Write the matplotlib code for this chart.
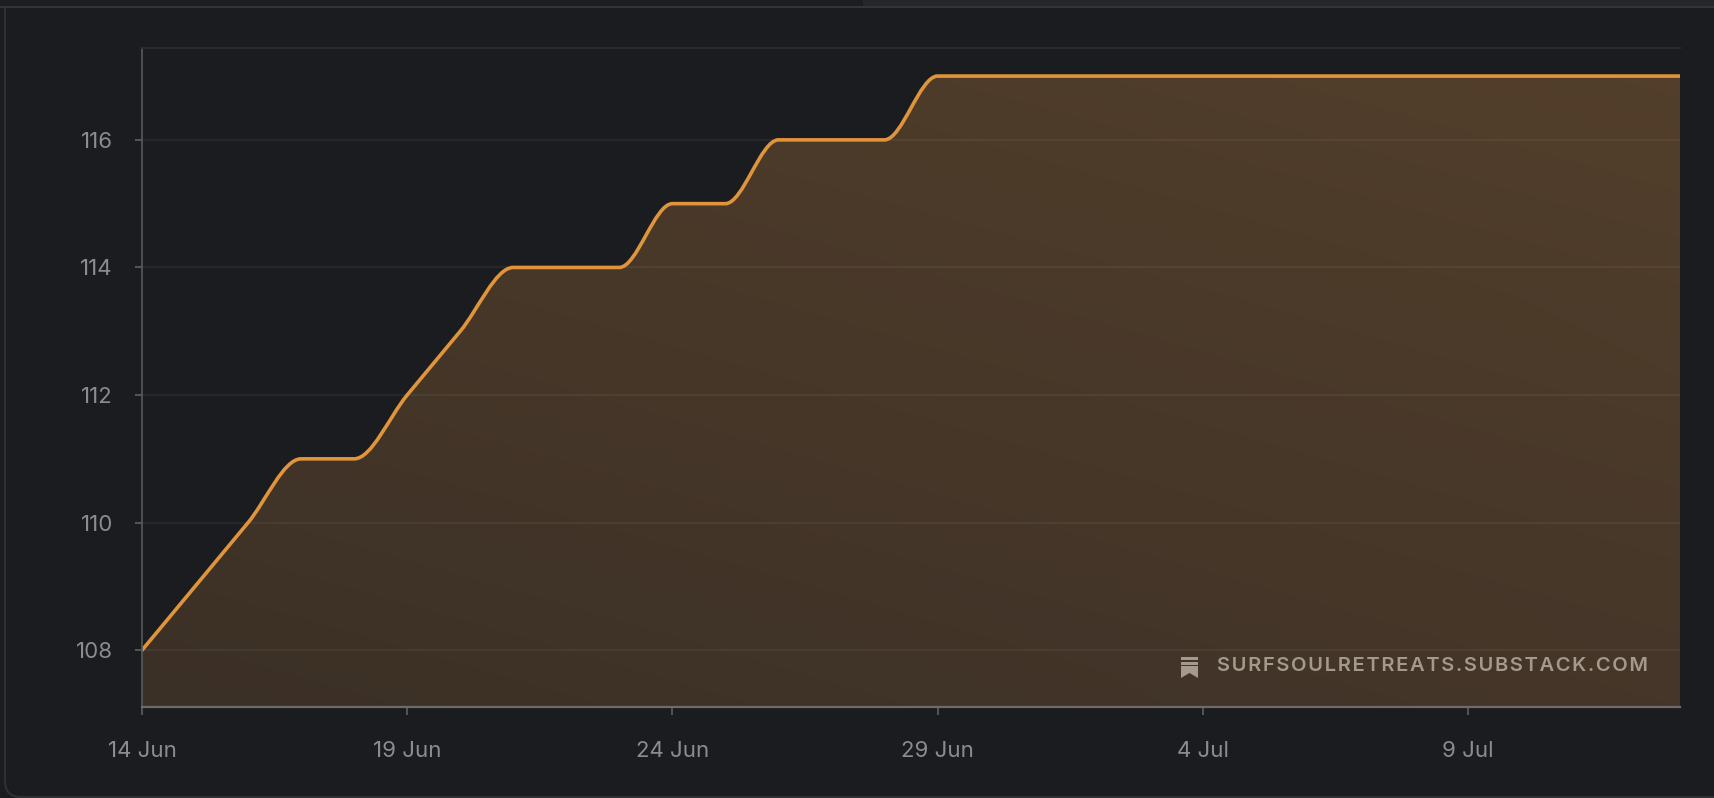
import numpy as np
import matplotlib
matplotlib.use("Agg")
import matplotlib.pyplot as plt
import matplotlib.patches as patches
from matplotlib.path import Path
from matplotlib.transforms import IdentityTransform

# Daily subscriber counts, 14 Jun .. 13 Jul
days = list(range(30))
subscribers = [108, 109, 110, 111, 111, 112, 113, 114, 114, 114,
               115, 115, 116, 116, 116, 117, 117, 117, 117, 117,
               117, 117, 117, 117, 117, 117, 117, 117, 117, 117]
tick_days = [0, 5, 10, 15, 20, 25]
tick_labels = ['14 Jun', '19 Jun', '24 Jun', '29 Jun', '4 Jul', '9 Jul']
y_ticks = [108, 110, 112, 114, 116]

BG = '#1b1c1f'
LINE = '#e0943b'
TEXT = '#8c8c8e'
W, H = 1714, 798

plt.rcParams['font.family'] = ['Inter', 'DejaVu Sans']


def monotone_path(xs, ys, ybase):
    # monotone cubic (like d3 curveMonotoneX) as bezier segments
    x = np.asarray(xs, float)
    y = np.asarray(ys, float)
    h = np.diff(x)
    s = np.diff(y) / h
    n = len(x)
    t = np.zeros(n)
    for i in range(1, n - 1):
        p = (s[i - 1] * h[i] + s[i] * h[i - 1]) / (h[i - 1] + h[i])
        t[i] = (np.sign(s[i - 1]) + np.sign(s[i])) * min(abs(s[i - 1]), abs(s[i]), 0.5 * abs(p))
    t[0] = (3 * s[0] - t[1]) / 2 if n > 2 else s[0]
    t[-1] = (3 * s[-1] - t[-2]) / 2 if n > 2 else s[-1]
    verts = [(x[0], y[0])]
    codes = [Path.MOVETO]
    for i in range(n - 1):
        d = h[i] / 3
        verts += [(x[i] + d, y[i] + d * t[i]), (x[i + 1] - d, y[i + 1] - d * t[i + 1]), (x[i + 1], y[i + 1])]
        codes += [Path.CURVE4] * 3
    line = Path(verts, codes)
    fverts = verts + [(x[-1], ybase), (x[0], ybase), (x[0], y[0])]
    fcodes = codes + [Path.LINETO, Path.LINETO, Path.CLOSEPOLY]
    return line, Path(fverts, fcodes)


fig = plt.figure(figsize=(W / 100, H / 100), dpi=100, facecolor=BG)

# panel chrome
fig.patches.append(patches.FancyBboxPatch((5, 1), W + 40, H + 60,
                                          boxstyle='round,pad=0,rounding_size=16',
                                          transform=IdentityTransform(), facecolor='none',
                                          edgecolor='#2e3033', linewidth=1.5, figure=fig))
fig.patches.append(patches.Rectangle((0, H - 6), 862, 6, transform=IdentityTransform(),
                                     facecolor='#1d1e21', edgecolor='none', figure=fig))
fig.patches.append(patches.Rectangle((863, H - 6), W - 863, 6, transform=IdentityTransform(),
                                     facecolor='#25282a', edgecolor='none', figure=fig))
fig.patches.append(patches.Rectangle((0, H - 8), W, 2, transform=IdentityTransform(),
                                     facecolor='#323436', edgecolor='none', figure=fig))

ax = fig.add_axes([142 / W, 1 - 707 / H, (1680 - 142) / W, (707 - 48) / H])
ax.set_facecolor(BG)
ymin, ymax = 107.11, 117.44
ax.set_xlim(days[0], days[-1])
ax.set_ylim(ymin, ymax)

line_path, fill_path = monotone_path(days, subscribers, ymin)

# gradient fill clipped to area under curve
c_bl = np.array([0x3b, 0x30, 0x26]) / 255
c_br = np.array([0x45, 0x36, 0x29]) / 255
c_tl = np.array([0x4a, 0x39, 0x29]) / 255
c_tr = np.array([0x53, 0x3f, 0x2b]) / 255
gy, gx = np.mgrid[0:1:200j, 0:1:200j]
gx = gx[..., None]
gy = gy[..., None]
grad = (c_bl * (1 - gx) * (1 - gy) + c_br * gx * (1 - gy)
        + c_tl * (1 - gx) * gy + c_tr * gx * gy)
clip = patches.PathPatch(fill_path, facecolor='none', edgecolor='none', transform=ax.transData)
ax.add_patch(clip)
img = ax.imshow(grad, extent=[days[0], days[-1], ymin, ymax], origin='lower',
                aspect='auto', zorder=1, interpolation='bilinear')
img.set_clip_path(clip)

for yv in y_ticks:
    ax.axhline(yv, color='white', alpha=0.055, linewidth=1.3, zorder=2)

ax.add_patch(patches.PathPatch(line_path, facecolor='none', edgecolor=LINE,
                               linewidth=2.6, zorder=4, capstyle='round'))

ax.spines['right'].set_visible(False)
ax.spines['top'].set_color('#2b2c2f')
ax.spines['top'].set_linewidth(1.3)
ax.spines['left'].set_color('#58595b')
ax.spines['bottom'].set_color('#6d6c6b')
ax.spines['left'].set_linewidth(1.2)
ax.spines['bottom'].set_linewidth(1.6)
for sp in ax.spines.values():
    sp.set_zorder(5)

ax.set_xticks(tick_days)
ax.set_xticklabels(tick_labels)
ax.set_yticks(y_ticks)
ax.set_yticklabels([str(v) for v in y_ticks])
ax.tick_params(axis='x', colors='#5f5f61', labelcolor=TEXT, labelsize=16, length=6, width=1.2, pad=18.5)
ax.tick_params(axis='y', colors='#5f5f61', labelcolor=TEXT, labelsize=16, length=5, width=1.2, pad=16)

# watermark
ax.text(0.9795, 0.0617, 'S U R F S O U L R E T R E A T S . S U B S T A C K . C O M'.replace(' ', '\u200a'),
        transform=ax.transAxes, ha='right', va='center', fontsize=14.5, fontweight='semibold',
        color='#a3998c', zorder=6, family=['Inter', 'DejaVu Sans'])

# bookmark icon
icon_col = '#a3998c'
for (yy, hh) in [(657, 3), (662, 2.5)]:
    fig.patches.append(patches.Rectangle((1181, H - yy - hh), 17, hh, transform=IdentityTransform(),
                                         facecolor=icon_col, edgecolor='none', figure=fig, zorder=10))
fig.patches.append(patches.Polygon([(1181, H - 666), (1198, H - 666), (1198, H - 678),
                                    (1189.5, H - 673), (1181, H - 678)], closed=True,
                                   transform=IdentityTransform(), facecolor=icon_col,
                                   edgecolor='none', figure=fig, zorder=10))

fig.savefig('out.png', dpi=100, facecolor=BG)
